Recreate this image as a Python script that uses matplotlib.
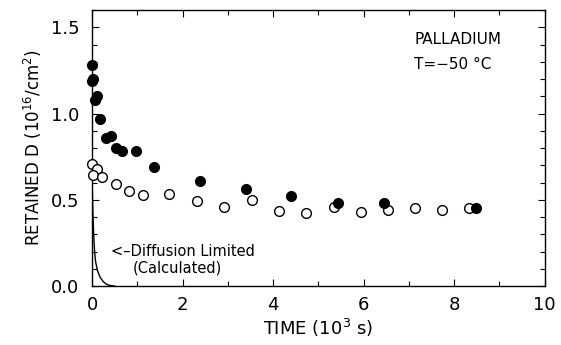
import matplotlib
matplotlib.use('Agg')
import matplotlib.pyplot as plt
from matplotlib.ticker import MultipleLocator

plt.rcParams['font.family'] = ['DejaVu Sans']

# Retained D, filled circles (time in 10^3 s, D in 10^16/cm^2)
filled_t = [0.0, 0.01, 0.03, 0.1, 0.06, 0.18, 0.3, 0.42, 0.54, 0.67, 0.97,
            1.38, 2.39, 3.40, 4.40, 5.44, 6.46, 8.48]
filled_d = [1.28, 1.19, 1.20, 1.10, 1.08, 0.97, 0.86, 0.87, 0.80, 0.78, 0.78,
            0.69, 0.61, 0.56, 0.52, 0.484, 0.48, 0.455]

# Open circles
open_t = [0.0, 0.1, 0.02, 0.22, 0.52, 0.81, 1.12, 1.71, 2.32, 2.92, 3.53,
          4.14, 4.73, 5.34, 5.94, 6.53, 7.13, 7.74, 8.33]
open_d = [0.71, 0.68, 0.645, 0.63, 0.59, 0.55, 0.53, 0.535, 0.49, 0.46, 0.496,
          0.436, 0.424, 0.46, 0.43, 0.44, 0.45, 0.44, 0.45]

# Diffusion limited (calculated) curve
calc_t = [0.0, 0.02, 0.04, 0.06, 0.08, 0.12, 0.18, 0.25, 0.32, 0.4, 0.5]
calc_d = [0.63, 0.42, 0.28, 0.19, 0.14, 0.09, 0.05, 0.025, 0.01, 0.003, 0.0]

fig = plt.figure(figsize=(5.61, 3.45), dpi=100)
ax = fig.add_axes([0.164, 0.171, 0.807, 0.80])

ax.plot(calc_t, calc_d, color='black', lw=1.0)
ax.plot(open_t, open_d, 'o', ms=7, mfc='white', mec='black', mew=1.0,
        clip_on=False, zorder=3)
ax.plot(filled_t, filled_d, 'o', ms=7, mfc='black', mec='black',
        clip_on=False, zorder=4)

ax.set_xlim(0, 10)
ax.set_ylim(0, 1.6)
ax.xaxis.set_major_locator(MultipleLocator(2))
ax.xaxis.set_minor_locator(MultipleLocator(1))
ax.yaxis.set_major_locator(MultipleLocator(0.5))
ax.yaxis.set_minor_locator(MultipleLocator(0.1))
ax.yaxis.set_major_formatter(plt.FormatStrFormatter('%.1f'))
ax.tick_params(which='both', direction='in', top=True, right=True,
               labelsize=13, width=0.8)
ax.tick_params(which='major', length=5)
ax.tick_params(axis='x', which='major', pad=7)
ax.tick_params(axis='y', which='major', pad=9)
ax.tick_params(which='minor', length=3.5)
for s in ax.spines.values():
    s.set_linewidth(1.0)

ax.set_xlabel('TIME (10$^3$ s)', fontsize=13, labelpad=2)
ax.set_ylabel('RETAINED D (10$^{16}$/cm$^2$)', fontsize=12, labelpad=5)

ax.text(7.12, 1.43, 'PALLADIUM', fontsize=11, ha='left', va='center')
ax.text(7.12, 1.285, 'T=\u221250 \u00b0C', fontsize=11, ha='left', va='center')
ax.text(0.43, 0.2, '<\u2013Diffusion Limited', fontsize=10.5, ha='left', va='center')
ax.text(0.89, 0.105, '(Calculated)', fontsize=10.5, ha='left', va='center')

fig.savefig('out.png', dpi=100)
